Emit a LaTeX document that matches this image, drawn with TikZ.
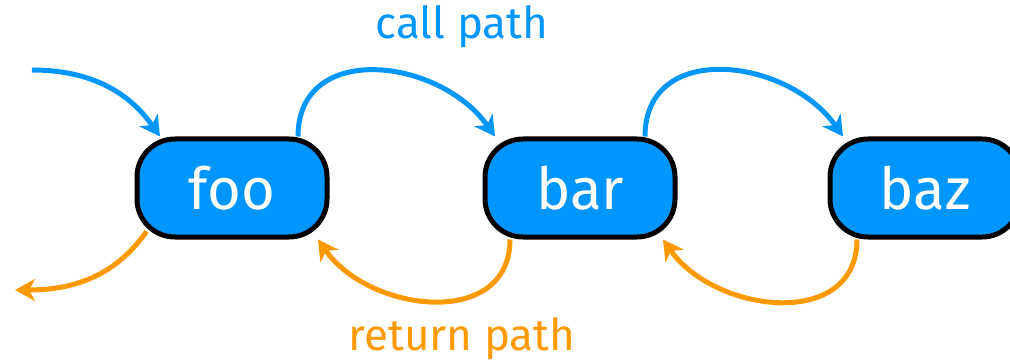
\documentclass[tikz,border=0pt]{standalone}
\usepackage{fontspec}
\setmainfont{Fira Sans}
\usepackage{xcolor}
\usetikzlibrary{positioning, arrows.meta}

\definecolor{callblue}{RGB}{0,150,255}
\definecolor{retorange}{RGB}{255,153,0}

\tikzset{
	func/.style={draw=black, line width=5pt, fill=callblue, text=white,
			rounded corners=38pt, minimum width=190pt, minimum height=98pt,
			font=\fontsize{58}{60}\selectfont},
	callarrow/.style={draw=callblue, line width=5pt,
			-{Stealth[length=20pt, width=22pt, inset=6pt]}},
	retarrow/.style={draw=retorange, line width=5pt,
			-{Stealth[length=20pt, width=22pt, inset=6pt]}}
}

\begin{document}
\begin{tikzpicture}[x=1pt, y=1pt]
		\useasboundingbox (0,0) rectangle (1010,362);

		% Nodes
		\node (foo) [func] at (232,174) {foo};
		\node (bar) [func] at (580,174) {bar};
		\node (baz) [func] at (925,174) {baz};

		% loose ends
		\coordinate (in) at (32,292);
		\coordinate (out) at (15,72);

		% Labels
		\node (call) [text=callblue, font=\fontsize{44}{46}\selectfont] at (462,335) {call path};
		\node (ret) [text=retorange, font=\fontsize{44}{46}\selectfont] at (462,23) {return path};

		% Arrows
		% call path
		\draw[callarrow] (in) to[out=0, in=125] ([xshift=-72pt]foo.north);
		\draw[callarrow] ([xshift=66pt]foo.north) to[out=90, in=125, looseness=1.25] ([xshift=-85pt]bar.north);
		\draw[callarrow] ([xshift=65pt]bar.north) to[out=90, in=125, looseness=1.25] ([xshift=-82pt]baz.north);
		% return path
		\draw[retarrow] ([xshift=-68pt]baz.south) to[out=-90, in=-55, looseness=1.2] ([xshift=83pt]bar.south);
		\draw[retarrow] ([xshift=-70pt]bar.south) to[out=-90, in=-55, looseness=1.2] ([xshift=86pt]foo.south);
		\draw[retarrow] ([shift={(12pt,8pt)}]foo.south west) to[out=-125, in=0] (out);
	\end{tikzpicture}
\end{document}
